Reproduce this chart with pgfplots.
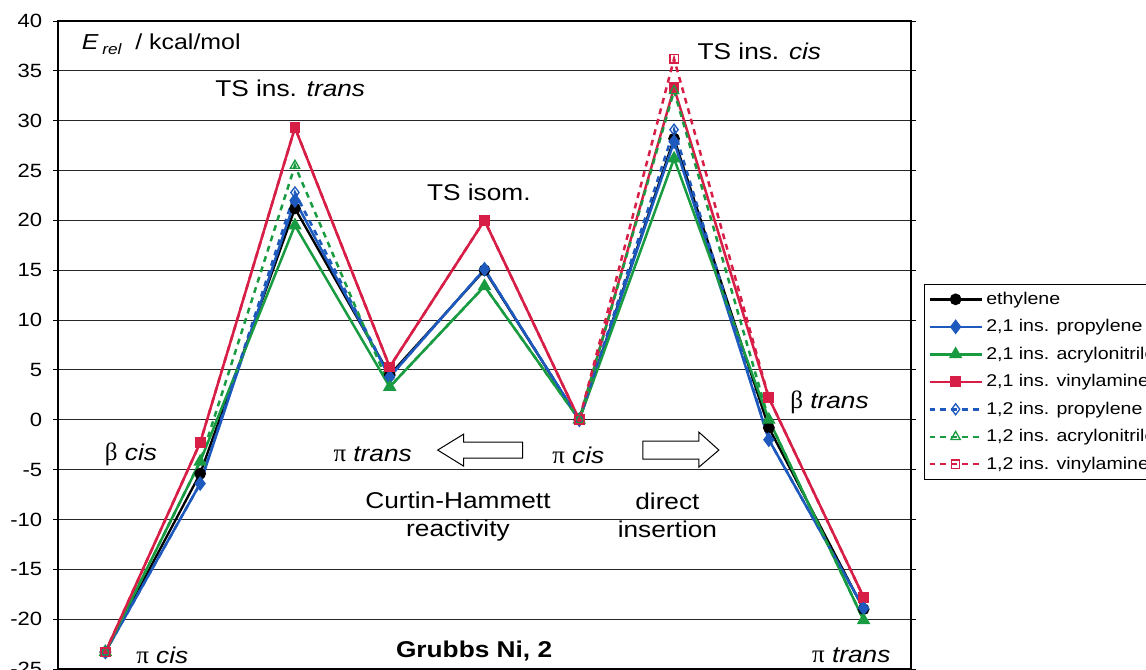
\documentclass[border=0pt]{standalone}
\usepackage{pgfplots}
\usepackage{pgfplotstable}
\pgfplotsset{compat=1.18}
\usepackage{fontspec}
\setmainfont[FakeStretch=1.15]{Liberation Sans}
\newfontfamily\grk{Liberation Serif}
\definecolor{cblue}{RGB}{30,90,190}
\definecolor{cgreen}{RGB}{25,155,65}
\definecolor{cred}{RGB}{215,30,70}
\newcommand\ann{\fontsize{13.7}{16}\selectfont}

\pgfplotstableread{
x eth p21 a21 v21 p12 a12 v12
0 -23.3 -23.3 -23.3 -23.3 -23.3 -23.3 -23.3
1 -5.4 -6.4 -4.2 -2.3 -6.4 -4.2 -2.3
2 21.2 22.0 19.5 29.3 22.8 25.5 29.3
3 4.5 4.3 3.3 5.3 4.3 3.3 5.3
4 15.0 15.1 13.4 20.0 15.1 13.4 20.0
5 0.0 0.0 0.0 0.0 0.0 0.0 0.0
6 28.2 27.9 26.2 33.3 29.1 33.0 36.2
7 -0.8 -2.0 0.0 2.2 -2.0 0.0 2.2
8 -19.0 -18.9 -20.1 -17.8 -18.9 -20.1 -17.8
}\data

\begin{document}
\begin{tikzpicture}
\begin{axis}[name=ax,
 scale only axis, width=511.8pt, height=388.8pt,
 xmin=-0.5, xmax=8.5, ymin=-25, ymax=40,
 xtick=\empty, ytick={-25,-20,...,40},
 ymajorgrids, major grid style={black!85, line width=0.6pt},
 axis line style={line width=1.4pt},
 tick align=outside, major tick length=3pt, tick style={black, line width=0.6pt},
 yticklabel style={font=\fontsize{11.5}{13}\selectfont, xshift=-3pt},
 /pgf/number format/assume math mode=true,
 legend style={at={(1.015,0.594)}, anchor=north west, font=\fontsize{10.2}{12}\selectfont, draw=black, row sep=3.6pt, inner sep=2.5pt},
 legend cell align=left,
 legend image code/.code={\draw[mark repeat=2, mark phase=2] plot coordinates {(0cm,0cm) (0.55cm,0cm) (1.1cm,0cm)};},
]
\addplot[black, line width=1.4pt, mark=*, mark size=2.8pt] table[x=x,y=eth]{\data};
\addlegendentry{ethylene}
\addplot[cblue, line width=1.5pt, mark=diamond*, mark size=3.3pt] table[x=x,y=p21]{\data};
\addlegendentry{2,1 ins. propylene}
\addplot[cgreen, line width=1.5pt, mark=triangle*, mark size=3.2pt] table[x=x,y=a21]{\data};
\addlegendentry{2,1 ins. acrylonitrile}
\addplot[cred, line width=1.5pt, mark=square*, mark size=2.5pt] table[x=x,y=v21]{\data};
\addlegendentry{2,1 ins. vinylamine}
\addplot[cblue, line width=1.5pt, dash pattern=on 3.5pt off 3pt, mark=diamond, mark size=3.3pt, mark options={solid, fill=white, line width=0.8pt}] table[x=x,y=p12]{\data};
\addlegendentry{1,2 ins. propylene}
\addplot[cgreen, line width=1.5pt, dash pattern=on 3.5pt off 3pt, mark=triangle, mark size=3.2pt, mark options={solid, fill=white, line width=0.8pt}] table[x=x,y=a12]{\data};
\addlegendentry{1,2 ins. acrylonitrile}
\addplot[cred, line width=1.5pt, dash pattern=on 3.5pt off 3pt, mark=square, mark size=2.5pt, mark options={solid, fill=white, line width=0.8pt}] table[x=x,y=v12]{\data};
\addlegendentry{1,2 ins. vinylamine}

\node[anchor=west, font=\fontsize{13}{15}\selectfont] at (axis cs:-0.31,37.7) {\textit{E}\,\raisebox{-0.45ex}{\fontsize{9}{10}\selectfont\itshape rel}\ \ / kcal/mol};
\node[font=\ann] at (axis cs:1.95,33.2) {TS ins. \textit{trans}};
\node[font=\ann] at (axis cs:3.94,22.8) {TS isom.};
\node[font=\ann] at (axis cs:6.90,37.0) {TS ins. \textit{cis}};
\node[font=\ann] at (axis cs:0.27,-3.45) {{\grk\fontsize{15}{16}\selectfont β} \textit{cis}};
\node[font=\ann] at (axis cs:2.82,-3.45) {{\grk\fontsize{15}{16}\selectfont π} \textit{trans}};
\node[font=\ann] at (axis cs:4.99,-3.55) {{\grk\fontsize{15}{16}\selectfont π} \textit{cis}};
\node[font=\ann, align=center] at (axis cs:3.72,-9.7) {Curtin-Hammett\\[1pt]reactivity};
\node[font=\ann, align=center] at (axis cs:5.93,-9.6) {direct\\[1pt]insertion};
\node[font=\ann\bfseries] at (axis cs:3.89,-23.2) {Grubbs Ni, 2};
\node[font=\ann] at (axis cs:0.60,-23.6) {{\grk\fontsize{15}{16}\selectfont π} \textit{cis}};
\node[font=\ann] at (axis cs:7.87,-23.6) {{\grk\fontsize{15}{16}\selectfont π} \textit{trans}};
\node[font=\ann] at (axis cs:7.64,1.77) {{\grk\fontsize{15}{16}\selectfont β} \textit{trans}};

\draw[black, line width=0.6pt, fill=white] (axis cs:3.506,-3.04) -- (axis cs:3.780,-1.44) -- (axis cs:3.780,-2.24) -- (axis cs:4.403,-2.24) -- (axis cs:4.403,-3.84) -- (axis cs:3.780,-3.84) -- (axis cs:3.780,-4.65) -- cycle;
\draw[black, line width=0.6pt, fill=white] (axis cs:6.473,-3.04) -- (axis cs:6.262,-1.24) -- (axis cs:6.262,-2.14) -- (axis cs:5.671,-2.14) -- (axis cs:5.671,-3.94) -- (axis cs:6.262,-3.94) -- (axis cs:6.262,-4.75) -- cycle;
\end{axis}
\pgfresetboundingbox
\path[use as bounding box] ([xshift=-34.8pt]ax.south west) rectangle ([xshift=652.8pt, yshift=401.4pt]ax.south west);
\end{tikzpicture}
\end{document}
